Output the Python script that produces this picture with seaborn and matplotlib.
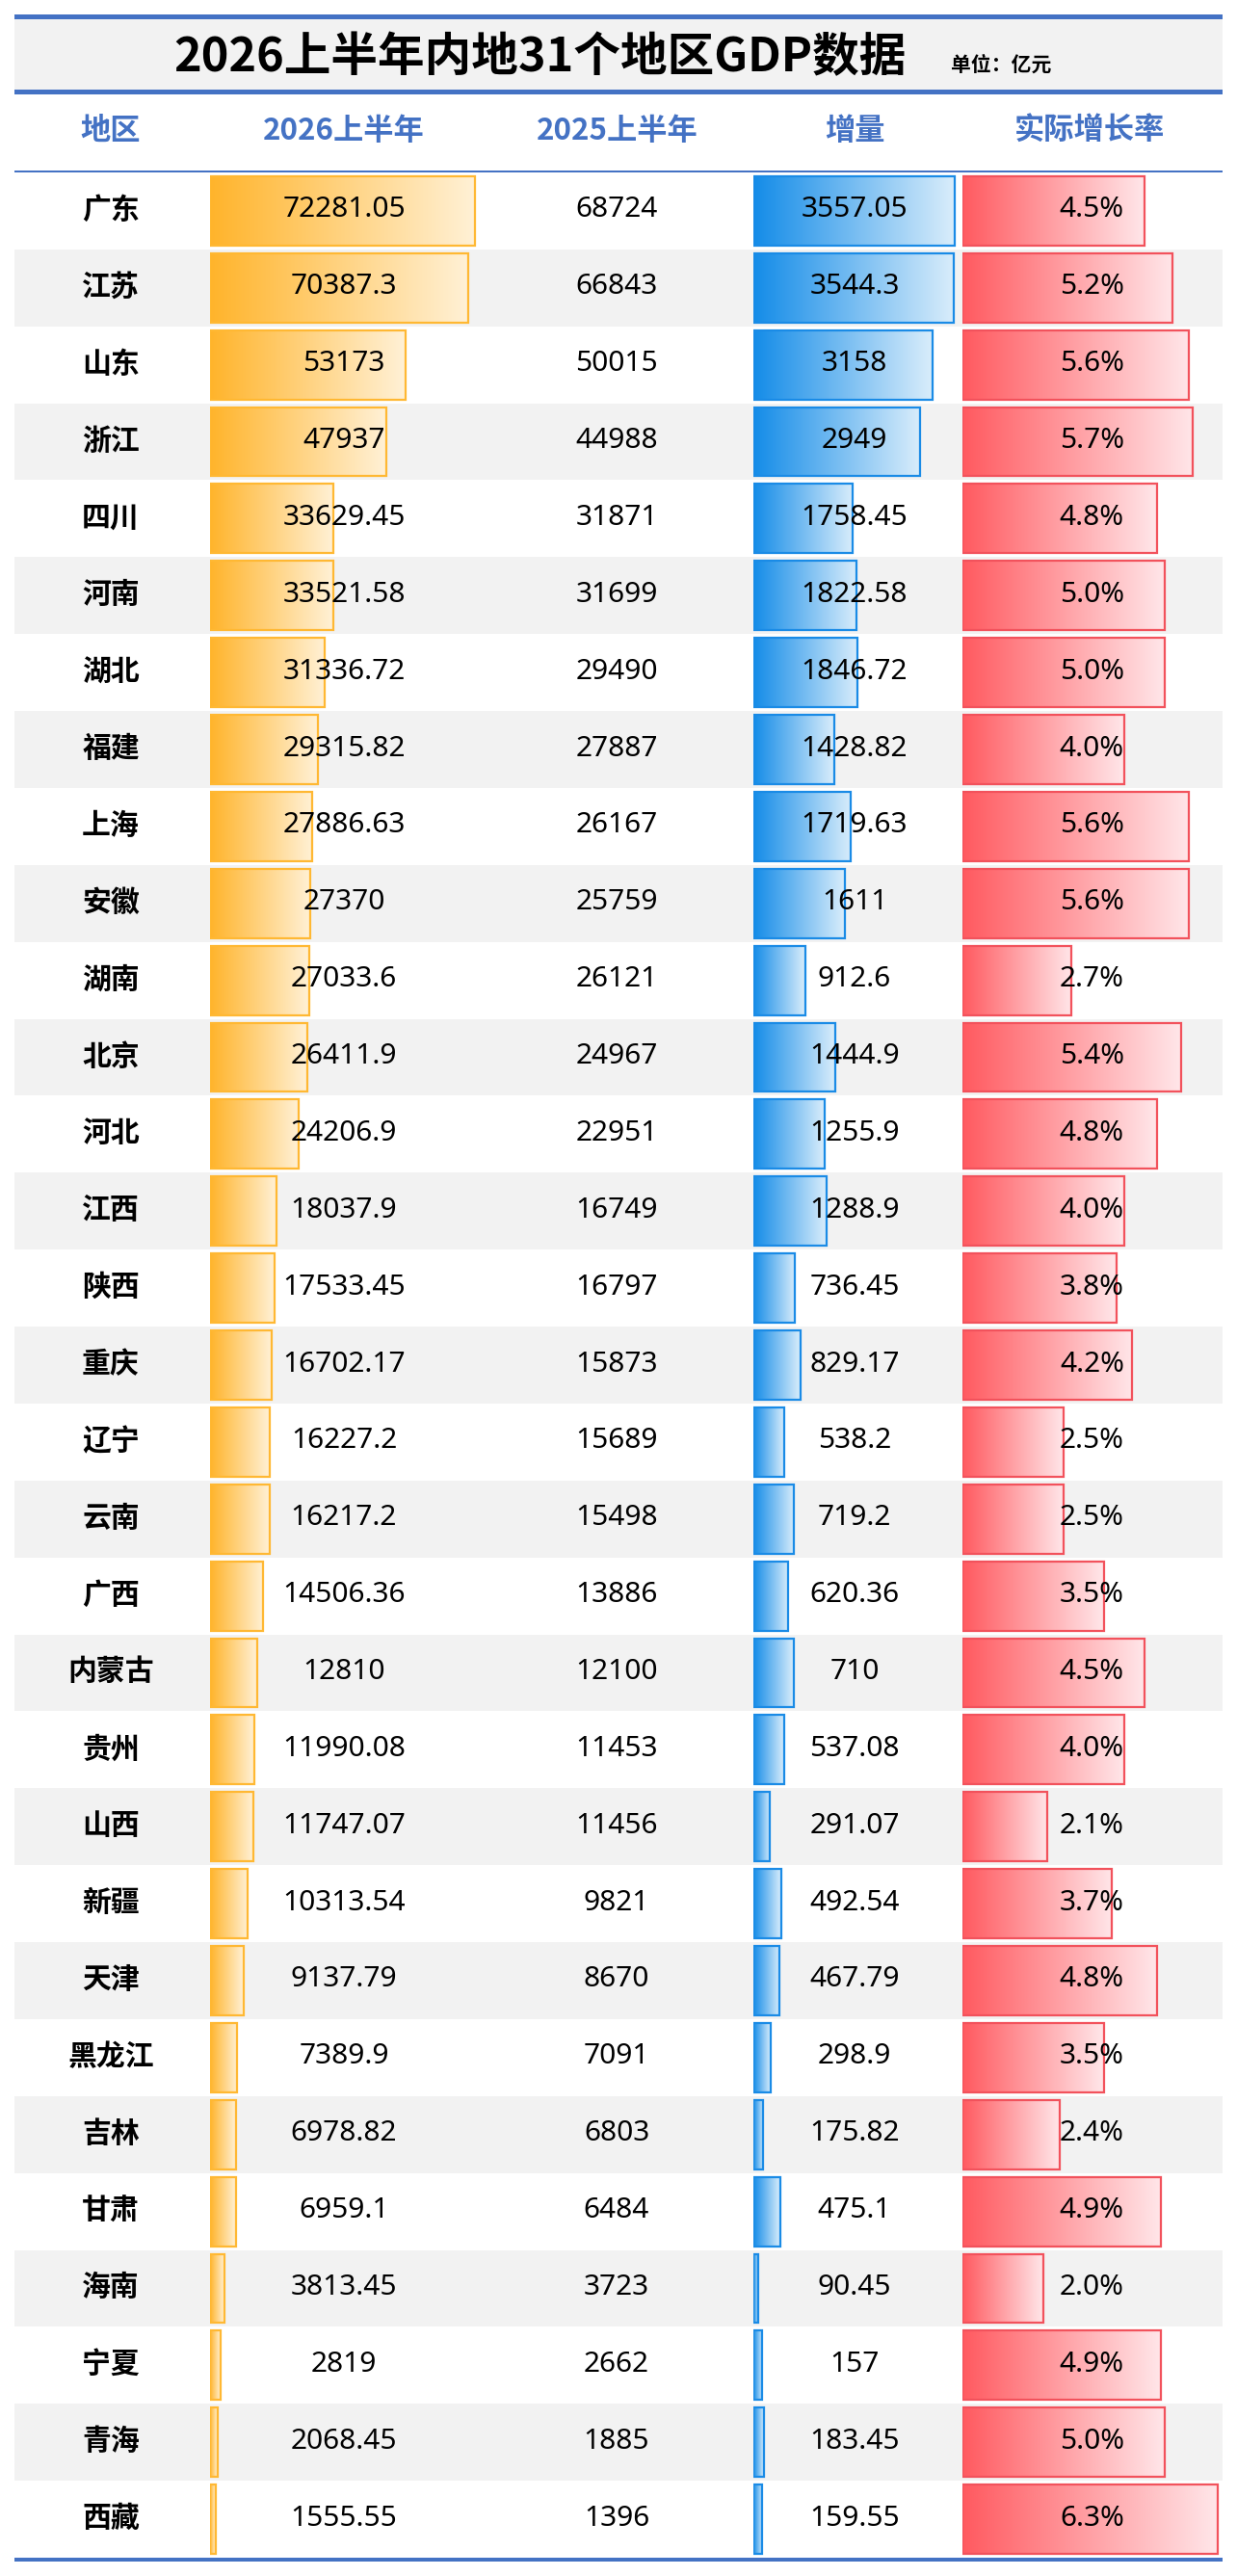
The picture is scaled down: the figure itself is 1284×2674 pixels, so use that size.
import numpy as np
import pandas as pd
import seaborn as sns
import matplotlib
matplotlib.use("Agg")
import matplotlib.pyplot as plt
from matplotlib.colors import LinearSegmentedColormap
from matplotlib.patches import Rectangle

# ================================
# 1. Data
# ================================
regions = ["广东", "江苏", "山东", "浙江", "四川", "河南", "湖北", "福建", "上海", "安徽",
           "湖南", "北京", "河北", "江西", "陕西", "重庆", "辽宁", "云南", "广西", "内蒙古",
           "贵州", "山西", "新疆", "天津", "黑龙江", "吉林", "甘肃", "海南", "宁夏", "青海", "西藏"]
gdp_2026 = ["72281.05", "70387.3", "53173", "47937", "33629.45", "33521.58", "31336.72",
            "29315.82", "27886.63", "27370", "27033.6", "26411.9", "24206.9", "18037.9",
            "17533.45", "16702.17", "16227.2", "16217.2", "14506.36", "12810", "11990.08",
            "11747.07", "10313.54", "9137.79", "7389.9", "6978.82", "6959.1", "3813.45",
            "2819", "2068.45", "1555.55"]
gdp_2025 = ["68724", "66843", "50015", "44988", "31871", "31699", "29490", "27887", "26167",
            "25759", "26121", "24967", "22951", "16749", "16797", "15873", "15689", "15498",
            "13886", "12100", "11453", "11456", "9821", "8670", "7091", "6803", "6484", "3723",
            "2662", "1885", "1396"]
increase = ["3557.05", "3544.3", "3158", "2949", "1758.45", "1822.58", "1846.72", "1428.82",
            "1719.63", "1611", "912.6", "1444.9", "1255.9", "1288.9", "736.45", "829.17",
            "538.2", "719.2", "620.36", "710", "537.08", "291.07", "492.54", "467.79", "298.9",
            "175.82", "475.1", "90.45", "157", "183.45", "159.55"]
growth = [4.5, 5.2, 5.6, 5.7, 4.8, 5.0, 5.0, 4.0, 5.6, 5.6, 2.7, 5.4, 4.8, 4.0, 3.8, 4.2,
          2.5, 2.5, 3.5, 4.5, 4.0, 2.1, 3.7, 4.8, 3.5, 2.4, 4.9, 2.0, 4.9, 5.0, 6.3]

headers = ["地区", "2026上半年", "2025上半年", "增量", "实际增长率"]
title = "2026上半年内地31个地区GDP数据"
unit = "单位：亿元"

df = pd.DataFrame({
    "region": regions,
    "gdp26": [float(v) for v in gdp_2026],
    "gdp25": [float(v) for v in gdp_2025],
    "inc": [float(v) for v in increase],
    "rate": growth,
})

# ================================
# 2. Layout (pixels)
# ================================
W, H = 1284, 2674
ROW_TOP, ROW_BOT = 179, 2655
ROW_H = (ROW_BOT - ROW_TOP) / len(regions)
BLUE_LINE = "#4472C4"
GRAY = "#F2F2F2"

sns.set_theme(style="white")
plt.rcParams["font.family"] = ["Noto Sans CJK SC", "DejaVu Sans"]
NUM_FONT = ["Noto Sans", "Noto Sans CJK SC"]

fig = plt.figure(figsize=(W / 100, H / 100), dpi=100)


def px_axes(x0, y0, x1, y1, z):
    return fig.add_axes([x0 / W, 1 - y1 / H, (x1 - x0) / W, (y1 - y0) / H], zorder=z)


# background
bg = px_axes(0, 0, W, H, 0)
bg.set_xlim(0, W)
bg.set_ylim(H, 0)
bg.axis("off")

bg.add_patch(Rectangle((15, 17), 1254, 78, color=GRAY, lw=0))
bg.add_patch(Rectangle((15, 15), 1254, 5, color=BLUE_LINE, lw=0))
bg.add_patch(Rectangle((15, 93), 1254, 5, color=BLUE_LINE, lw=0))
bg.add_patch(Rectangle((15, 177), 1254, 2, color=BLUE_LINE, lw=0))
bg.add_patch(Rectangle((15, ROW_BOT), 1254, 3.5, color=BLUE_LINE, lw=0))

for i in range(len(regions)):
    if i % 2 == 1:
        bg.add_patch(Rectangle((15, ROW_TOP + i * ROW_H), 1254, ROW_H, color=GRAY, lw=0))

bg.text(560, 74, title, ha="center", va="baseline", fontsize=35, fontweight="bold", color="black")
bg.text(987, 74, unit, ha="left", va="baseline", fontsize=15, fontweight="bold", color="black")

header_x = [115, 357, 641, 887, 1131]
for hx, h in zip(header_x, headers):
    bg.text(hx, 136, h, ha="center", va="center", fontsize=22.5, fontweight="bold", color=BLUE_LINE)

# ================================
# 3. Gradient bars
# ================================
def gradient_bars(ax, col, xmax, left_c, right_c, edge_c):
    sns.barplot(data=df, y="region", x=col, orient="h", ax=ax, width=0.9,
                color=left_c, edgecolor=edge_c, linewidth=1.6, saturation=1)
    cmap = LinearSegmentedColormap.from_list(col, [left_c, right_c])
    grad = np.linspace(0, 1, 256).reshape(1, -1)
    for p in ax.patches:
        x0, y0 = p.get_x(), p.get_y()
        w, h = p.get_width(), p.get_height()
        p.set_facecolor("none")
        p.set_zorder(3)
        im = ax.imshow(grad, cmap=cmap, extent=[x0, x0 + w, y0 + h, y0],
                       aspect="auto", zorder=2, interpolation="bilinear")
        im.set_clip_path(p)
    ax.set_xlim(0, xmax)
    ax.set_ylim(len(regions) - 0.5, -0.5)
    ax.axis("off")
    ax.patch.set_alpha(0)


ax_gdp = px_axes(218, ROW_TOP, 618, ROW_BOT, 1)
gradient_bars(ax_gdp, "gdp26", 105000, "#FFB42B", "#FFF1D6", "#FFB833")

ax_inc = px_axes(782, ROW_TOP, 997, ROW_BOT, 1)
gradient_bars(ax_inc, "inc", 3660, "#148CE8", "#D9EDFB", "#1A8BE6")

ax_rate = px_axes(999, ROW_TOP, 1269, ROW_BOT, 1)
gradient_bars(ax_rate, "rate", 6.43, "#FF5A60", "#FFE6E9", "#F2525C")

# ================================
# 4. Texts on top
# ================================
top = px_axes(0, 0, W, H, 5)
top.set_xlim(0, W)
top.set_ylim(H, 0)
top.axis("off")
top.patch.set_alpha(0)

for i in range(len(regions)):
    yc = ROW_TOP + (i + 0.5) * ROW_H - 1
    top.text(115, yc, regions[i], ha="center", va="center", fontsize=21.5,
             fontweight="bold", color="black")
    top.text(357, yc, gdp_2026[i], ha="center", va="center", fontsize=21.5,
             family=NUM_FONT, color="black")
    top.text(640, yc, gdp_2025[i], ha="center", va="center", fontsize=21.5,
             family=NUM_FONT, color="black")
    top.text(887, yc, increase[i], ha="center", va="center", fontsize=21.5,
             family=NUM_FONT, color="black")
    top.text(1167, yc, f"{growth[i]:.1f}%", ha="right", va="center", fontsize=21.5,
             family=NUM_FONT, color="black")

plt.savefig("out.png", dpi=100)
plt.close()
